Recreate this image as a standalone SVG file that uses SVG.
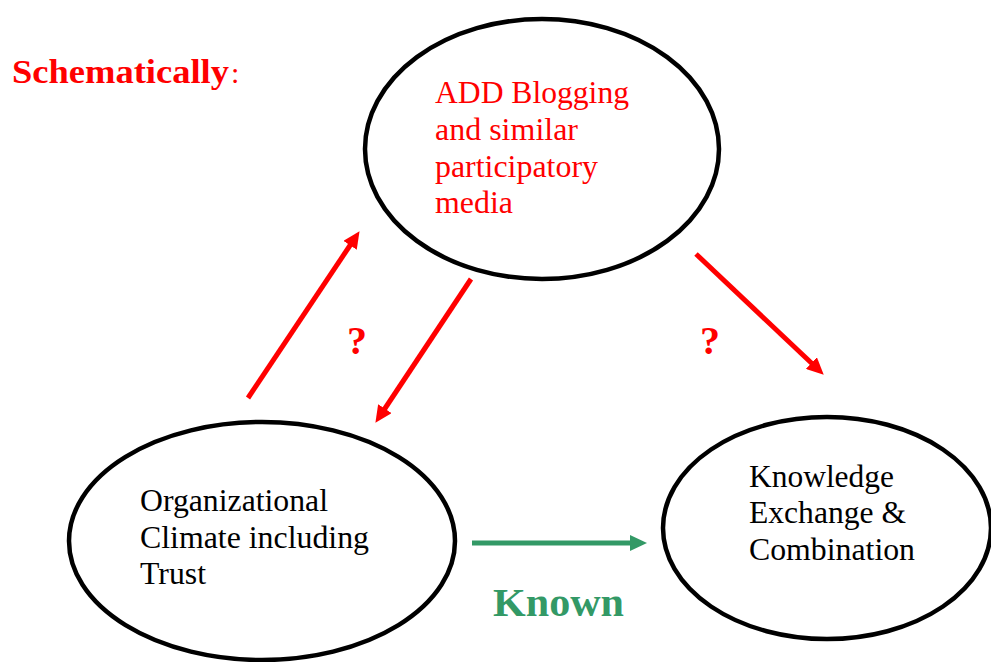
<svg xmlns="http://www.w3.org/2000/svg" width="991" height="662" viewBox="0 0 991 662">
  <style>
    .node { fill: #ffffff; stroke: #000000; stroke-width: 4.5; }
    .label { font-family: "Liberation Serif", "Times New Roman", serif; font-size: 31px; fill: #000000; }
    .red { fill: #ff0000; }
    .green { fill: #339966; }
    .bold { font-weight: bold; }
    .red-line { stroke: #ff0000; stroke-width: 5; fill: none; }
    .green-line { stroke: #339966; stroke-width: 5; fill: none; }
  </style>
  <defs>
    <marker id="head-red" markerUnits="userSpaceOnUse" markerWidth="18" markerHeight="16" refX="4" refY="8" orient="auto">
      <path d="M0,0 L17,8 L0,16 z" fill="#ff0000"/>
    </marker>
    <marker id="head-green" markerUnits="userSpaceOnUse" markerWidth="18" markerHeight="16" refX="4" refY="8" orient="auto">
      <path d="M0,0 L17,8 L0,16 z" fill="#339966"/>
    </marker>
  </defs>

  <!-- heading -->
  <text x="12" y="83" class="label red bold" style="font-size:34px" textLength="217" lengthAdjust="spacingAndGlyphs">Schematically</text>
  <text x="231" y="83" class="label red" style="font-size:30px">:</text>

  <!-- nodes -->
  <g id="node-blogging">
    <ellipse class="node" cx="542" cy="149" rx="177" ry="130"/>
    <text class="label red">
      <tspan x="435" y="103" textLength="194" lengthAdjust="spacingAndGlyphs">ADD Blogging</tspan>
      <tspan x="435" y="140" textLength="143" lengthAdjust="spacingAndGlyphs">and similar</tspan>
      <tspan x="435" y="177" textLength="163" lengthAdjust="spacingAndGlyphs">participatory</tspan>
      <tspan x="435" y="213" textLength="78" lengthAdjust="spacingAndGlyphs">media</tspan>
    </text>
  </g>

  <g id="node-climate">
    <ellipse class="node" cx="262" cy="541" rx="193" ry="119"/>
    <text class="label">
      <tspan x="140" y="511" textLength="188" lengthAdjust="spacingAndGlyphs">Organizational</tspan>
      <tspan x="140" y="548" textLength="229" lengthAdjust="spacingAndGlyphs">Climate including</tspan>
      <tspan x="140" y="584" textLength="66" lengthAdjust="spacingAndGlyphs">Trust</tspan>
    </text>
  </g>

  <g id="node-knowledge">
    <ellipse class="node" cx="827" cy="528" rx="164" ry="111"/>
    <text class="label">
      <tspan x="749" y="487" textLength="145" lengthAdjust="spacingAndGlyphs">Knowledge</tspan>
      <tspan x="749" y="523" textLength="157" lengthAdjust="spacingAndGlyphs">Exchange &amp;</tspan>
      <tspan x="749" y="560" textLength="166" lengthAdjust="spacingAndGlyphs">Combination</tspan>
    </text>
  </g>

  <!-- connectors -->
  <g id="connectors">
    <line class="red-line" x1="248" y1="398" x2="352.3" y2="242" marker-end="url(#head-red)"/>
    <line class="red-line" x1="471" y1="279" x2="382.6" y2="412" marker-end="url(#head-red)"/>
    <line class="red-line" x1="696" y1="254" x2="814.3" y2="365.8" marker-end="url(#head-red)"/>
    <line class="green-line" x1="472" y1="543" x2="634" y2="543" marker-end="url(#head-green)"/>
    <text x="347" y="354" class="label red bold" style="font-size:40px">?</text>
    <text x="700" y="354" class="label red bold" style="font-size:40px">?</text>
    <text x="493" y="616" class="label green bold" style="font-size:40px" textLength="131" lengthAdjust="spacingAndGlyphs">Known</text>
  </g>
</svg>
